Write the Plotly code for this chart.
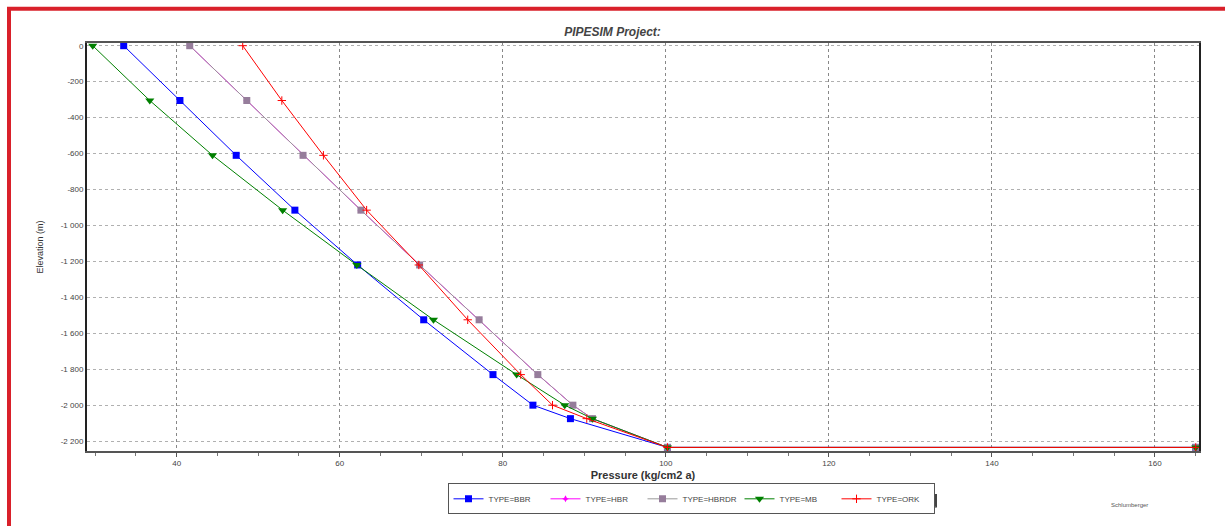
import plotly.graph_objects as go

# ---- data ----
elev = [0, -305, -610, -915, -1220, -1525, -1830, -2000, -2075, -2235, -2235]

p_bbr   = [33.5, 40.4, 47.3, 54.5, 62.2, 70.3, 78.8, 83.7, 88.3, 100.2, 165.0]
p_hbr   = [41.6, 48.6, 55.5, 62.6, 69.8, 77.1, 84.3, 88.6, 91.0, 100.2, 165.0]
p_hbrdr = [41.6, 48.6, 55.5, 62.6, 69.8, 77.1, 84.3, 88.6, 91.0, 100.2, 165.0]
p_mb    = [29.7, 36.7, 44.4, 53.0, 62.1, 71.5, 81.7, 87.6, 91.0, 100.2, 165.0]
p_ork   = [48.1, 52.9, 58.0, 63.3, 69.7, 75.7, 82.2, 86.1, 90.3, 100.2, 165.0]

series_names = ["TYPE=BBR", "TYPE=HBR", "TYPE=HBRDR", "TYPE=MB", "TYPE=ORK"]

x_ticks = [40, 60, 80, 100, 120, 140, 160]
y_ticks = [0, -200, -400, -600, -800, -1000, -1200, -1400, -1600, -1800, -2000, -2200]
y_tick_labels = ["0", "-200", "-400", "-600", "-800", "-1 000", "-1 200", "-1 400",
                 "-1 600", "-1 800", "-2 000", "-2 200"]

# ---- layout geometry (pixels) ----
W, H = 1225, 526
L, R, T, B = 87, 26, 43, 65
pw, ph = W - L - R, H - T - B


def px_x(px):
    return (px - L) / pw


def px_y(py):
    return (H - B - py) / ph


fig = go.Figure()

styles = [
    (p_bbr, "#0000ff", dict(symbol="square", size=7, color="#0000ff")),
    (p_hbr, "#ff00ff", dict(symbol="star-diamond", size=5, color="#ff00ff")),
    (p_hbrdr, "#999999", dict(symbol="square", size=7, color="rgba(150,125,155,1)")),
    (p_mb, "#008000", dict(symbol="triangle-down", size=8, color="#008000")),
    (p_ork, "#ff0000", dict(symbol="cross-thin", size=6, color="#ff0000",
                            line=dict(color="#ff0000", width=1))),
]

for (xs, col, mk), name in zip(styles, series_names):
    fig.add_trace(go.Scatter(
        x=xs, y=elev, name=name, mode="lines+markers",
        line=dict(color=col, width=1),
        marker=mk,
    ))

fig.update_layout(
    width=W, height=H,
    margin=dict(l=L, r=R, t=T, b=B),
    paper_bgcolor="white", plot_bgcolor="white",
    font=dict(family="Liberation Sans, Arial, sans-serif", size=8, color="#333333"),
    title=dict(text="PIPESIM Project:", x=0.5, xref="container", xanchor="center",
               y=1 - 32 / H, yref="container", yanchor="middle",
               font=dict(size=12, style="italic", weight="bold", color="#444444")),
    showlegend=True,
    legend=dict(orientation="h", x=px_x(691), xanchor="center", y=px_y(510), yanchor="middle",
                bordercolor="#555555", borderwidth=1, bgcolor="white",
                font=dict(size=8, color="#444444"), entrywidth=52,
                itemwidth=30, tracegroupgap=0),
)

fig.update_xaxes(
    range=[29, 165.4], tickvals=x_ticks, ticktext=[str(v) for v in x_ticks],
    showgrid=True, gridcolor="#888888", griddash="dot", gridwidth=1,
    showline=True, linecolor="#555555", linewidth=1.5, mirror=True,
    ticks="outside", ticklen=4, tickcolor="#555555",
    minor=dict(dtick=5, tick0=0, ticks="outside", ticklen=3, tickcolor="#777777", showgrid=False),
    tickfont=dict(size=8, color="#444444"),
    title=dict(text="Pressure (kg/cm2 a)", font=dict(size=11, weight="bold", color="#333333"),
               standoff=4),
    zeroline=False,
)
fig.update_yaxes(
    range=[-2255, 15], tickvals=y_ticks, ticktext=y_tick_labels,
    showgrid=True, gridcolor="#b0b0b0", griddash="dot", gridwidth=1,
    showline=True, linecolor="#222222", linewidth=2, mirror=True,
    ticks="", tickfont=dict(size=8, color="#444444"),
    title=dict(text="Elevation (m)", font=dict(size=9, color="#333333"), standoff=16),
    zeroline=False,
)

# red frame: only top and left edges fall inside the picture
fig.add_shape(type="line", xref="paper", yref="paper",
              x0=px_x(7), x1=px_x(1240), y0=px_y(8), y1=px_y(8),
              line=dict(color="#d9202a", width=4), layer="above")
fig.add_shape(type="line", xref="paper", yref="paper",
              x0=px_x(9), x1=px_x(9), y0=px_y(6), y1=px_y(540),
              line=dict(color="#d9202a", width=4), layer="above")

# legend shadow
fig.add_shape(type="line", xref="paper", yref="paper",
              x0=px_x(936), x1=px_x(936), y0=px_y(519), y1=px_y(505),
              line=dict(color="#444444", width=2))
fig.add_shape(type="line", xref="paper", yref="paper",
              x0=px_x(450), x1=px_x(936), y0=px_y(518.5), y1=px_y(518.5),
              line=dict(color="#888888", width=1))

fig.add_annotation(text="Schlumberger", xref="paper", yref="paper",
                   x=px_x(1150), y=px_y(521), showarrow=False,
                   font=dict(size=6, color="#555555"))

fig.write_html("out.html")
